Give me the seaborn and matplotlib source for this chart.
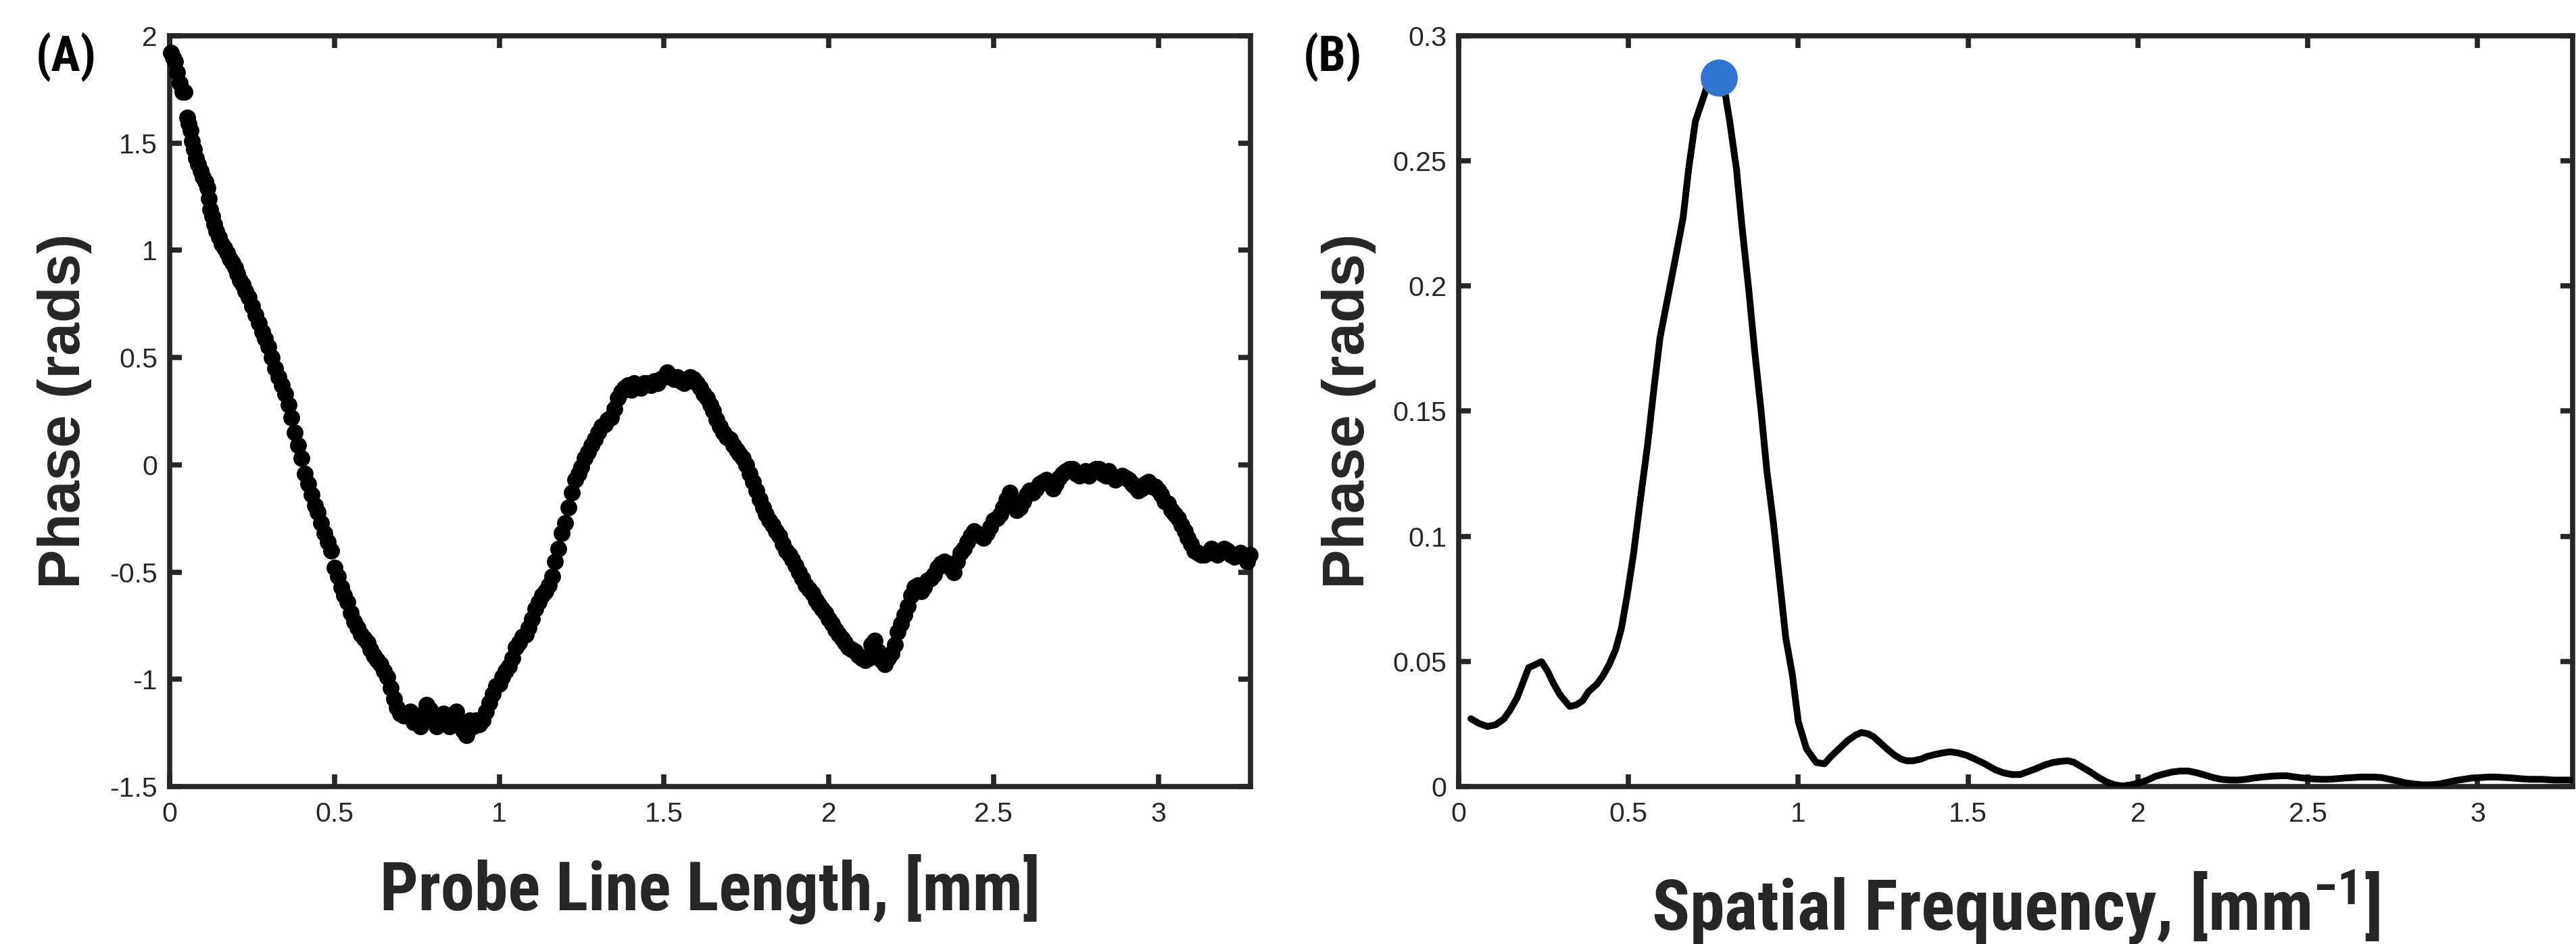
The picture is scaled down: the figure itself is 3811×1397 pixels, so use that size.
import matplotlib
matplotlib.use("Agg")
import matplotlib.pyplot as plt
import seaborn as sns
import pandas as pd
from matplotlib import font_manager as fm

# ---------------- data ----------------
probe_length = [
    0.004, 0.010, 0.016, 0.022, 0.030, 0.039, 0.046, 0.053, 0.058, 0.063,
    0.068, 0.074, 0.080, 0.087, 0.094, 0.101, 0.108, 0.115, 0.119, 0.123,
    0.129, 0.135, 0.142, 0.150, 0.158, 0.166, 0.174, 0.182, 0.190, 0.198,
    0.206, 0.214, 0.222, 0.230, 0.240, 0.250,
    0.26, 0.27, 0.28, 0.29, 0.30, 0.31, 0.32, 0.33, 0.34, 0.35,
    0.36, 0.37, 0.38, 0.39, 0.40, 0.41, 0.42, 0.43, 0.44, 0.45,
    0.46, 0.47, 0.48, 0.49, 0.50, 0.51, 0.52, 0.53, 0.54, 0.55,
    0.56, 0.57, 0.58, 0.59, 0.60, 0.61, 0.62, 0.63, 0.64, 0.65,
    0.66, 0.67, 0.68, 0.69, 0.70, 0.71, 0.72, 0.73, 0.74, 0.75,
    0.76, 0.77, 0.78, 0.79, 0.80, 0.81, 0.82, 0.83, 0.84, 0.85,
    0.86, 0.87, 0.88, 0.89, 0.90, 0.91, 0.92, 0.93, 0.94, 0.95,
    0.96, 0.97, 0.98, 0.99, 1.00, 1.01, 1.02, 1.03, 1.04, 1.05,
    1.06, 1.07, 1.08, 1.09, 1.10, 1.11, 1.12, 1.13, 1.14, 1.15,
    1.16, 1.17, 1.18, 1.19, 1.20, 1.21, 1.22, 1.23, 1.24, 1.25,
    1.26, 1.27, 1.28, 1.29, 1.30, 1.31, 1.32, 1.33, 1.34, 1.35,
    1.36, 1.37, 1.38, 1.39, 1.40, 1.41, 1.42, 1.43, 1.44, 1.45,
    1.46, 1.47, 1.48, 1.49, 1.50, 1.51, 1.52, 1.53, 1.54, 1.55,
    1.56, 1.57, 1.58, 1.59, 1.60, 1.61, 1.62, 1.63, 1.64, 1.65,
    1.66, 1.67, 1.68, 1.69, 1.70, 1.71, 1.72, 1.73, 1.74, 1.75,
    1.76, 1.77, 1.78, 1.79, 1.80, 1.81, 1.82, 1.83, 1.84, 1.85,
    1.86, 1.87, 1.88, 1.89, 1.90, 1.91, 1.92, 1.93, 1.94, 1.95,
    1.96, 1.97, 1.98, 1.99, 2.00, 2.01, 2.02, 2.03, 2.04, 2.05,
    2.06, 2.07, 2.08, 2.09, 2.10, 2.11, 2.12, 2.13, 2.14, 2.15,
    2.16, 2.17, 2.18, 2.19, 2.20, 2.21, 2.22, 2.23, 2.24, 2.25,
    2.26, 2.27, 2.28, 2.29, 2.30, 2.31, 2.32, 2.33, 2.34, 2.35,
    2.36, 2.37, 2.38, 2.39, 2.40, 2.41, 2.42, 2.43, 2.44, 2.45,
    2.46, 2.47, 2.48, 2.49, 2.50, 2.51, 2.52, 2.53, 2.54, 2.55,
    2.56, 2.57, 2.58, 2.59, 2.60, 2.61, 2.62, 2.63, 2.64, 2.65,
    2.66, 2.67, 2.68, 2.69, 2.70, 2.71, 2.72, 2.73, 2.74, 2.75,
    2.76, 2.77, 2.78, 2.79, 2.80, 2.81, 2.82, 2.83, 2.84, 2.85,
    2.86, 2.87, 2.88, 2.89, 2.90, 2.91, 2.92, 2.93, 2.94, 2.95,
    2.96, 2.97, 2.98, 2.99, 3.00, 3.01, 3.02, 3.03, 3.04, 3.05,
    3.06, 3.07, 3.08, 3.09, 3.10, 3.11, 3.12, 3.13, 3.14, 3.15,
    3.16, 3.17, 3.18, 3.19, 3.20, 3.21, 3.22, 3.23, 3.24, 3.25,
    3.26, 3.27, 3.278,
]
probe_phase = [
    1.92, 1.90, 1.88, 1.83, 1.78, 1.74, 1.74, 1.62, 1.59, 1.56,
    1.51, 1.47, 1.43, 1.40, 1.37, 1.34, 1.32, 1.29, 1.24, 1.19,
    1.16, 1.12, 1.09, 1.06, 1.03, 1.01, 0.99, 0.96, 0.94, 0.92,
    0.89, 0.86, 0.84, 0.81, 0.78, 0.74,
    0.70, 0.66, 0.62, 0.59, 0.55, 0.50, 0.45, 0.41, 0.37, 0.33,
    0.28, 0.22, 0.15, 0.09, 0.03, -0.04, -0.09, -0.14, -0.19, -0.22,
    -0.27, -0.32, -0.36, -0.40, -0.48, -0.52, -0.57, -0.61, -0.64, -0.69,
    -0.73, -0.76, -0.79, -0.81, -0.83, -0.86, -0.89, -0.91, -0.93, -0.96,
    -0.99, -1.04, -1.09, -1.13, -1.16, -1.17, -1.17, -1.15, -1.20, -1.20,
    -1.22, -1.16, -1.12, -1.14, -1.19, -1.22, -1.20, -1.16, -1.20, -1.22,
    -1.18, -1.15, -1.20, -1.24, -1.26, -1.19, -1.22, -1.19, -1.21, -1.19,
    -1.15, -1.11, -1.07, -1.03, -1.02, -0.99, -0.96, -0.94, -0.90, -0.85,
    -0.83, -0.80, -0.79, -0.76, -0.72, -0.67, -0.64, -0.61, -0.59, -0.56,
    -0.52, -0.45, -0.39, -0.32, -0.27, -0.20, -0.13, -0.07, -0.04, -0.01,
    0.03, 0.06, 0.09, 0.12, 0.15, 0.18, 0.19, 0.21, 0.22, 0.26,
    0.31, 0.34, 0.36, 0.37, 0.35, 0.38, 0.37, 0.36, 0.38, 0.38,
    0.37, 0.39, 0.38, 0.40, 0.41, 0.43, 0.41, 0.40, 0.41, 0.39,
    0.38, 0.40, 0.41, 0.40, 0.38, 0.36, 0.33, 0.31, 0.28, 0.25,
    0.21, 0.18, 0.15, 0.13, 0.12, 0.09, 0.07, 0.05, 0.03, 0.00,
    -0.04, -0.08, -0.12, -0.16, -0.20, -0.23, -0.26, -0.28, -0.31, -0.33,
    -0.37, -0.40, -0.42, -0.44, -0.47, -0.50, -0.53, -0.56, -0.58, -0.60,
    -0.63, -0.65, -0.67, -0.69, -0.72, -0.74, -0.77, -0.79, -0.81, -0.83,
    -0.85, -0.86, -0.87, -0.89, -0.90, -0.91, -0.90, -0.84, -0.82, -0.87,
    -0.91, -0.93, -0.90, -0.88, -0.84, -0.78, -0.74, -0.70, -0.66, -0.61,
    -0.57, -0.56, -0.59, -0.57, -0.54, -0.53, -0.51, -0.48, -0.46, -0.45,
    -0.46, -0.48, -0.50, -0.45, -0.41, -0.39, -0.36, -0.33, -0.31, -0.32,
    -0.33, -0.34, -0.32, -0.29, -0.26, -0.25, -0.23, -0.20, -0.16, -0.13,
    -0.17, -0.21, -0.20, -0.17, -0.14, -0.12, -0.13, -0.11, -0.09, -0.08,
    -0.07, -0.09, -0.11, -0.09, -0.06, -0.04, -0.03, -0.02, -0.02, -0.04,
    -0.05, -0.04, -0.03, -0.05, -0.03, -0.02, -0.02, -0.04, -0.05, -0.03,
    -0.05, -0.07, -0.06, -0.05, -0.06, -0.07, -0.09, -0.10, -0.12, -0.11,
    -0.09, -0.08, -0.10, -0.10, -0.12, -0.14, -0.17, -0.18, -0.21, -0.23,
    -0.25, -0.28, -0.31, -0.34, -0.37, -0.40, -0.41, -0.42, -0.42, -0.41,
    -0.39, -0.41, -0.42, -0.40, -0.39, -0.40, -0.42, -0.43, -0.42, -0.41,
    -0.43, -0.45, -0.42,
]

spatial_freq = [
    0.036, 0.060, 0.085, 0.109, 0.133, 0.152, 0.172, 0.189, 0.206, 0.225,
    0.244, 0.261, 0.278, 0.298, 0.327, 0.346, 0.365, 0.382, 0.406, 0.423,
    0.443, 0.462, 0.479, 0.496, 0.515, 0.535, 0.556, 0.576, 0.593, 0.617,
    0.641, 0.661, 0.677, 0.697, 0.721, 0.738, 0.767, 0.782, 0.798, 0.818,
    0.835, 0.854, 0.871, 0.890, 0.907, 0.927, 0.946, 0.963, 0.982, 1.000,
    1.024, 1.053, 1.077, 1.096, 1.120, 1.144, 1.169, 1.186, 1.205, 1.222,
    1.241, 1.265, 1.282, 1.302, 1.319, 1.338, 1.362, 1.379, 1.399, 1.423,
    1.447, 1.471, 1.495, 1.520, 1.549, 1.580, 1.604, 1.629, 1.653, 1.677,
    1.701, 1.725, 1.749, 1.774, 1.793, 1.810, 1.834, 1.858, 1.882, 1.907,
    1.931, 1.955, 1.979, 2.003, 2.028, 2.052, 2.076, 2.100, 2.124, 2.149,
    2.173, 2.197, 2.221, 2.245, 2.270, 2.294, 2.318, 2.342, 2.366, 2.391,
    2.415, 2.439, 2.463, 2.487, 2.511, 2.536, 2.560, 2.584, 2.608, 2.632,
    2.657, 2.693, 2.717, 2.741, 2.766, 2.790, 2.814, 2.838, 2.862, 2.887,
    2.911, 2.935, 2.959, 2.983, 3.008, 3.032, 3.056, 3.080, 3.104, 3.129,
    3.153, 3.189, 3.225, 3.274,
]
spectrum_amp = [
    0.0271, 0.0252, 0.0240, 0.0247, 0.0270, 0.0307, 0.0355, 0.0415, 0.0475, 0.0487,
    0.0499, 0.0463, 0.0415, 0.0367, 0.0320, 0.0326, 0.0343, 0.0379, 0.0408, 0.0439,
    0.0487, 0.0547, 0.0631, 0.0763, 0.0931, 0.1147, 0.1363, 0.1603, 0.1795, 0.1963,
    0.2131, 0.2275, 0.2467, 0.2659, 0.2755, 0.2827, 0.2833, 0.2791, 0.2659, 0.2467,
    0.2227, 0.1987, 0.1747, 0.1507, 0.1267, 0.1051, 0.0811, 0.0595, 0.0451, 0.0259,
    0.0151, 0.0096, 0.0091, 0.0120, 0.0151, 0.0182, 0.0206, 0.0216, 0.0211, 0.0199,
    0.0175, 0.0146, 0.0127, 0.0110, 0.0103, 0.0103, 0.0110, 0.0120, 0.0127, 0.0134,
    0.0139, 0.0134, 0.0125, 0.0110, 0.0091, 0.0067, 0.0055, 0.0048, 0.0048, 0.0060,
    0.0072, 0.0086, 0.0096, 0.0101, 0.0103, 0.0098, 0.0079, 0.0060, 0.0038, 0.0019,
    0.0007, 0.0002, 0.0007, 0.0014, 0.0026, 0.0041, 0.0050, 0.0058, 0.0062, 0.0062,
    0.0055, 0.0046, 0.0036, 0.0029, 0.0026, 0.0026, 0.0029, 0.0034, 0.0038, 0.0041,
    0.0043, 0.0043, 0.0038, 0.0034, 0.0031, 0.0029, 0.0029, 0.0031, 0.0034, 0.0036,
    0.0038, 0.0038, 0.0036, 0.0029, 0.0022, 0.0014, 0.0010, 0.0007, 0.0007, 0.0010,
    0.0017, 0.0024, 0.0029, 0.0034, 0.0036, 0.0038, 0.0038, 0.0036, 0.0034, 0.0031,
    0.0029, 0.0029, 0.0026, 0.0026,
]
peak_freq = [0.767]
peak_amp = [0.2833]

x_ticks = [0, 0.5, 1, 1.5, 2, 2.5, 3]
x_tick_labels = ["0", "0.5", "1", "1.5", "2", "2.5", "3"]
yA_ticks = [-1.5, -1, -0.5, 0, 0.5, 1, 1.5, 2]
yA_tick_labels = ["-1.5", "-1", "-0.5", "0", "0.5", "1", "1.5", "2"]
yB_ticks = [0, 0.05, 0.1, 0.15, 0.2, 0.25, 0.3]
yB_tick_labels = ["0", "0.05", "0.1", "0.15", "0.2", "0.25", "0.3"]

# ---------------- style ----------------
sns.set_style("white")
names = {f.name for f in fm.fontManager.ttflist}


def pick(cands, default="Liberation Sans"):
    for c in cands:
        if c in names:
            return c
    return default


NARROW = pick(["Liberation Sans Narrow", "Roboto Condensed", "Open Sans Condensed"])
REG = pick(["Liberation Sans", "Arial", "DejaVu Sans"], "DejaVu Sans")
plt.rcParams["font.family"] = [REG, "DejaVu Sans"]
plt.rcParams["mathtext.default"] = "regular"

INK = "#262626"

fig = plt.figure(figsize=(38.12, 13.97), dpi=100)
axA = fig.add_axes([0.06585, 0.16679, 0.41947, 0.79528])
axB = fig.add_axes([0.56611, 0.16679, 0.43232, 0.79528])

dfA = pd.DataFrame({"x": probe_length, "y": probe_phase})
dfB = pd.DataFrame({"x": spatial_freq, "y": spectrum_amp})
dfP = pd.DataFrame({"x": peak_freq, "y": peak_amp})

sns.scatterplot(data=dfA, x="x", y="y", ax=axA, color="black", s=320,
                linewidth=0, clip_on=False, zorder=3, legend=False)
sns.lineplot(data=dfB, x="x", y="y", ax=axB, color="black", linewidth=7.2,
             sort=False, estimator=None, zorder=3, legend=False)
sns.scatterplot(data=dfP, x="x", y="y", ax=axB, color="#3076D0", s=1560,
                linewidth=0, zorder=4, clip_on=False, legend=False)

for ax, yt, ytl, ylim in [(axA, yA_ticks, yA_tick_labels, (-1.5, 2)),
                          (axB, yB_ticks, yB_tick_labels, (0, 0.3))]:
    ax.set_xlim(0, 3.28)
    ax.set_ylim(*ylim)
    ax.set_xticks(x_ticks)
    ax.set_xticklabels(x_tick_labels)
    ax.set_yticks(yt)
    ax.set_yticklabels(ytl)
    for sp in ax.spines.values():
        sp.set_visible(True)
        sp.set_linewidth(5.5)
        sp.set_color(INK)
    ax.tick_params(axis="both", direction="in", length=13, width=5.5,
                   color=INK, labelcolor=INK, labelsize=29.5,
                   top=True, right=True, bottom=True, left=True)
    ax.tick_params(axis="x", pad=16)
    ax.tick_params(axis="y", pad=13)
    for lab in ax.get_xticklabels() + ax.get_yticklabels():
        lab.set_fontfamily(REG)
    ax.set_facecolor("white")

axA.set_xlabel("Probe Line Length, [mm]", fontfamily=NARROW, fontweight="bold",
               fontsize=72, color=INK)
axA.xaxis.set_label_coords(0.5, -0.090)
axB.set_xlabel("Spatial Frequency, [mm$^{-1}$]", fontfamily=NARROW,
               fontweight="bold", fontsize=75, color=INK)
axB.xaxis.set_label_coords(0.5, -0.108)

axA.set_ylabel("Phase (rads)", fontfamily=REG, fontweight="bold", fontsize=63, color=INK)
axA.yaxis.set_label_coords(-0.0719, 0.5)
axB.set_ylabel("Phase (rads)", fontfamily=REG, fontweight="bold", fontsize=63, color=INK)
axB.yaxis.set_label_coords(-0.0740, 0.5)

fig.text(0.0139, 0.9248, "(A)", fontfamily=NARROW, fontweight="bold", fontsize=52,
         ha="left", va="baseline", color="black")
fig.text(0.5058, 0.9248, "(B)", fontfamily=NARROW, fontweight="bold", fontsize=52,
         ha="left", va="baseline", color="black")

fig.savefig("out.png", dpi=100, facecolor="white")
